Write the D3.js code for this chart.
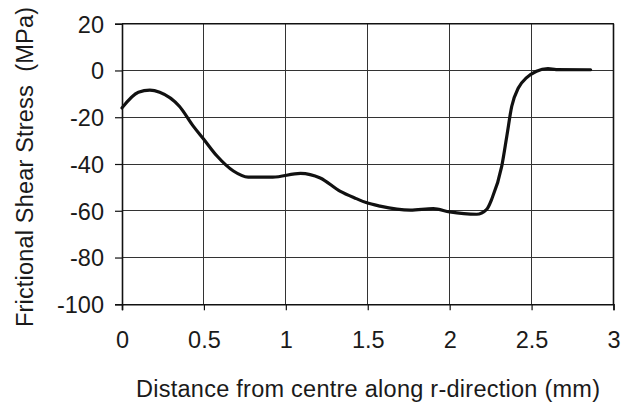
<!DOCTYPE html>
<html>
<head>
<meta charset="utf-8">
<script src="https://cdn.jsdelivr.net/npm/d3@7"></script>
<style>
  html, body { margin: 0; padding: 0; background: #fff; }
  svg text { font-family: "Liberation Sans", Arial, sans-serif; fill: #1a1a1a; }
</style>
</head>
<body>
<svg id="chart" width="629" height="406"></svg>
<script>
// Radial distance (mm) and frictional shear stress (MPa)
const distance = [0, 0.1, 0.17, 0.23, 0.35, 0.435, 0.5, 0.58, 0.68, 0.77, 0.92, 1.09, 1.21, 1.33, 1.43, 1.49, 1.575, 1.76, 1.9, 2.0, 2.165, 2.226, 2.257, 2.318, 2.349, 2.379, 2.42, 2.47, 2.53, 2.6, 2.65, 2.86];
const stress   = [-16, -9.3, -8.4, -9.3, -15.3, -23.8, -29.5, -36.6, -43, -45.6, -45.6, -44, -46, -51.6, -54.8, -56.5, -58, -59.7, -59.1, -60.5, -61.5, -59.4, -55, -40.9, -28, -15.3, -7.4, -3.1, -0.3, 0.8, 0.4, 0.3];

const xTicks = [0, 0.5, 1, 1.5, 2, 2.5, 3];
const yTicks = [20, 0, -20, -40, -60, -80, -100];
const xTitle = "Distance from centre along r-direction (mm)";
const yTitle = "Frictional Shear Stress  (MPa)";

const svg = d3.select("#chart");
const plotL = 122, plotR = 613.5, plotT = 23.7, plotB = 304.3;

const x = d3.scaleLinear().domain([0, 3]).range([plotL, plotR]);
const y = d3.scaleLinear().domain([-100, 20]).range([plotB, plotT]);

// grid
const grid = svg.append("g").attr("stroke", "#333").attr("stroke-width", 1).attr("shape-rendering", "crispEdges");
grid.selectAll(".gx").data(xTicks).join("line")
  .attr("x1", d => x(d)).attr("x2", d => x(d)).attr("y1", plotT).attr("y2", plotB);
grid.selectAll(".gy").data(yTicks).join("line")
  .attr("x1", plotL).attr("x2", plotR).attr("y1", d => y(d)).attr("y2", d => y(d));

// axes (plain hyphen for negative numbers)
const fmt = d => String(d);
const xAxis = svg.append("g").attr("transform", `translate(0,${plotB})`)
  .call(d3.axisBottom(x).tickValues(xTicks).tickSize(6).tickFormat(fmt));
const yAxis = svg.append("g").attr("transform", `translate(${plotL},0)`)
  .call(d3.axisLeft(y).tickValues(yTicks).tickSize(7).tickFormat(fmt));
[xAxis, yAxis].forEach(a => {
  a.select(".domain").attr("stroke", "#111").attr("stroke-width", 1.6);
  a.selectAll(".tick line").attr("stroke", "#111").attr("stroke-width", 1.2);
  a.selectAll("text").attr("font-size", 23.5).attr("fill", "#1a1a1a")
    .attr("font-family", "Liberation Sans, Arial, sans-serif");
});
xAxis.selectAll("text").attr("y", 0).attr("dy", null).attr("transform", "translate(0,44)");
yAxis.selectAll("text").attr("x", -18).attr("dy", null).attr("transform", "translate(0,8.4)");

// right and top frame
svg.append("line").attr("x1", plotR).attr("x2", plotR).attr("y1", plotT).attr("y2", plotB)
  .attr("stroke", "#111").attr("stroke-width", 1.6);
svg.append("line").attr("x1", plotL).attr("x2", plotR).attr("y1", plotT).attr("y2", plotT)
  .attr("stroke", "#111").attr("stroke-width", 1.4);

// stress curve
const line = d3.line().x((d, i) => x(distance[i])).y(d => y(d)).curve(d3.curveMonotoneX);
svg.append("path").datum(stress).attr("d", line)
  .attr("fill", "none").attr("stroke", "#111").attr("stroke-width", 3.2)
  .attr("stroke-linejoin", "round").attr("stroke-linecap", "round");

// titles
svg.append("text").attr("x", 368).attr("y", 396.5).attr("text-anchor", "middle")
  .attr("font-size", 23.5).attr("textLength", 464).attr("lengthAdjust", "spacing").text(xTitle);
svg.append("text").attr("transform", "translate(33,167) rotate(-90)").attr("text-anchor", "middle")
  .attr("font-size", 23.5).attr("textLength", 320).attr("lengthAdjust", "spacing")
  .style("white-space", "pre").text(yTitle);
</script>
</body>
</html>
